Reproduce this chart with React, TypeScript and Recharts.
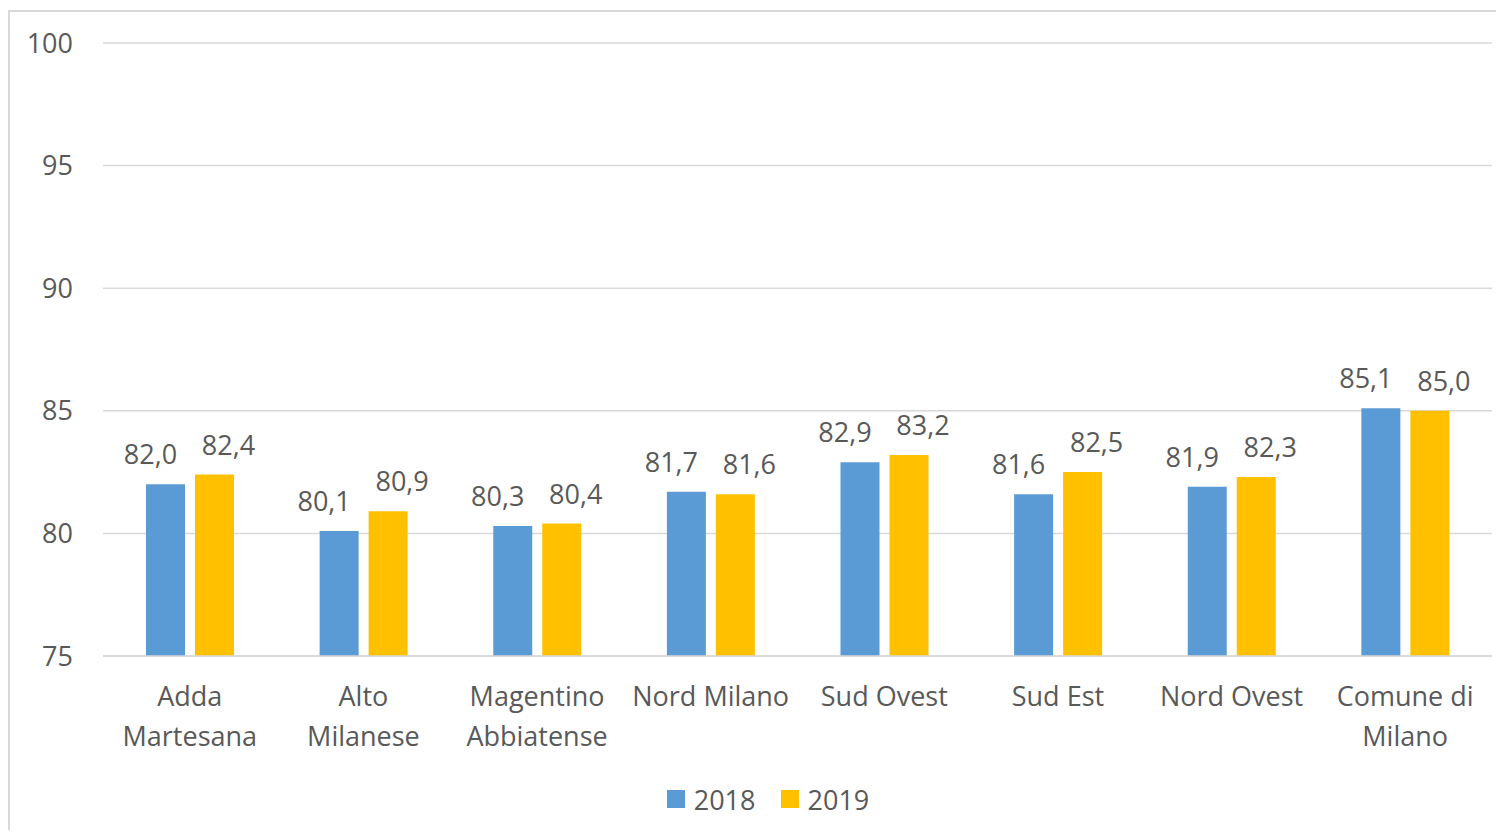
import { BarChart, Bar, XAxis, YAxis, CartesianGrid, Legend, LabelList } from "recharts";

const categories = [
  "Adda\nMartesana",
  "Alto\nMilanese",
  "Magentino\nAbbiatense",
  "Nord Milano",
  "Sud Ovest",
  "Sud Est",
  "Nord Ovest",
  "Comune di\nMilano",
];
const values2018 = [82.0, 80.1, 80.3, 81.7, 82.9, 81.6, 81.9, 85.1];
const values2019 = [82.4, 80.9, 80.4, 81.6, 83.2, 82.5, 82.3, 85.0];
const yTicks = [75, 80, 85, 90, 95, 100];
const seriesNames = ["2018", "2019"];
const seriesColors = ["#5B9BD5", "#FFC000"];

const data = categories.map((name, i) => ({
  name,
  y2018: values2018[i],
  y2019: values2019[i],
}));

const TEXT = "#595959";
const FONT = "'Open Sans', sans-serif";
const FS = 27;

const fmt = (v: number) => v.toFixed(1).replace(".", ",");

function CategoryTick(props: any) {
  const { x, y, payload } = props;
  const lines = String(payload.value).split("\n");
  return (
    <text x={x} y={y + 42} textAnchor="middle" fill={TEXT} fontSize={FS} fontFamily={FONT}>
      {lines.map((l, i) => (
        <tspan key={i} x={x} dy={i === 0 ? 0 : 40}>
          {l}
        </tspan>
      ))}
    </text>
  );
}

const makeLabel = (dx: number) => (props: any) => {
  const { x, y, width, value } = props;
  return (
    <text
      x={x + width / 2 + dx}
      y={y - 20}
      textAnchor="middle"
      fill={TEXT}
      fontSize={FS}
      fontFamily={FONT}
    >
      {fmt(value)}
    </text>
  );
};

function LegendContent() {
  return (
    <div
      style={{
        height: 30,
        display: "flex",
        alignItems: "center",
        justifyContent: "center",
        paddingLeft: 34,
        fontFamily: FONT,
        fontSize: FS,
        color: TEXT,
      }}
    >
      {seriesNames.map((s, i) => (
        <div key={s} style={{ display: "flex", alignItems: "center", marginRight: i === 0 ? 25 : 0 }}>
          <span style={{ width: 18, height: 18, background: seriesColors[i], marginRight: 9, display: "inline-block" }} />
          <span>{s}</span>
        </div>
      ))}
    </div>
  );
}

export default function App() {
  return (
    <div
      style={{
        marginTop: 2,
        width: 1486,
        height: 818,
        borderLeft: "2px solid #d9d9d9",
        borderTop: "2px solid #d9d9d9",
        background: "#fff",
        fontFamily: FONT,
      }}
    >
      <BarChart
        width={1486}
        height={818}
        data={data}
        margin={{ top: 31, right: 4, left: 0, bottom: 16 }}
        barGap={10}
        barSize={39}
      >
        <CartesianGrid vertical={false} stroke="#d9d9d9" strokeWidth={1.5} />
        <XAxis
          dataKey="name"
          interval={0}
          height={128}
          tickLine={false}
          axisLine={{ stroke: "#d9d9d9", strokeWidth: 1.5 }}
          tick={<CategoryTick />}
        />
        <YAxis
          domain={[75, 100]}
          ticks={yTicks}
          width={93}
          axisLine={false}
          tickLine={false}
          tickMargin={24}
          tick={{ fill: TEXT, fontSize: FS, fontFamily: FONT }}
        />
        <Legend verticalAlign="bottom" content={<LegendContent />} />
        <Bar dataKey="y2018" name={seriesNames[0]} fill={seriesColors[0]} isAnimationActive={false}>
          <LabelList dataKey="y2018" content={makeLabel(-15)} />
        </Bar>
        <Bar dataKey="y2019" name={seriesNames[1]} fill={seriesColors[1]} isAnimationActive={false}>
          <LabelList dataKey="y2019" content={makeLabel(14)} />
        </Bar>
      </BarChart>
    </div>
  );
}
